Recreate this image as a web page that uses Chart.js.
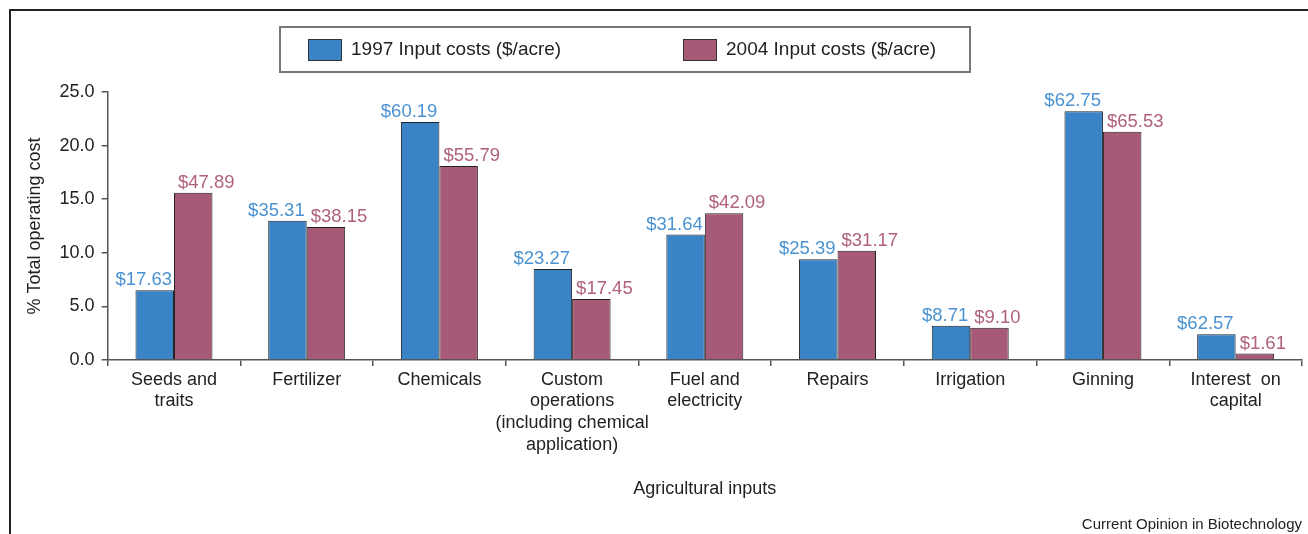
<!DOCTYPE html>
<html>
<head>
<meta charset="utf-8">
<title>Agricultural input costs</title>
<script src="https://cdn.jsdelivr.net/npm/chart.js@4.4.1/dist/chart.umd.min.js"></script>
<style>
    html, body { margin: 0; padding: 0; background: #fff; }
    #wrap { width: 1308px; height: 534px; position: relative; }
</style>
</head>
<body>
<div id="wrap"><canvas id="cost-chart"></canvas></div>
<script>
// Chart data
const categories = [
    ['Seeds and', 'traits'],
    ['Fertilizer'],
    ['Chemicals'],
    ['Custom', 'operations', '(including chemical', 'application)'],
    ['Fuel and', 'electricity'],
    ['Repairs'],
    ['Irrigation'],
    ['Ginning'],
    ['Interest  on', 'capital']
];
const seriesNames = ['1997 Input costs ($/acre)', '2004 Input costs ($/acre)'];
// % of total operating cost
const share1997 = [6.5, 13.0, 22.2, 8.5, 11.7, 9.4, 3.2, 23.2, 2.4];
const share2004 = [15.6, 12.4, 18.1, 5.7, 13.7, 10.2, 3.0, 21.3, 0.6];
// dollar labels shown above bars
const cost1997 = ['$17.63', '$35.31', '$60.19', '$23.27', '$31.64', '$25.39', '$8.71', '$62.75', '$62.57'];
const cost2004 = ['$47.89', '$38.15', '$55.79', '$17.45', '$42.09', '$31.17', '$9.10', '$65.53', '$1.61'];
const yMin = 0, yMax = 25, yStep = 5;

const FONT = '"Liberation Sans", Arial, Helvetica, sans-serif';
const barColors = ['#3a83c6', '#a75a78'];
const labelColors = ['#4a92d2', '#b0607f'];

// frame lines + boxed legend, drawn around the chart
const framePlugin = {
    id: 'frame',
    beforeDraw(chart) {
        const ctx = chart.ctx;
        ctx.save();
        ctx.strokeStyle = '#222';
        ctx.lineWidth = 2;
        ctx.beginPath();
        ctx.moveTo(10, chart.height);
        ctx.lineTo(10, 10);
        ctx.lineTo(chart.width, 10);
        ctx.stroke();
        ctx.restore();
    },
    afterDraw(chart) {
        const ctx = chart.ctx;
        ctx.save();
        // legend box
        ctx.strokeStyle = '#777';
        ctx.lineWidth = 2;
        ctx.strokeRect(280, 27, 690, 45);
        const swatchX = [308, 683];
        ctx.font = '19px ' + FONT;
        ctx.textBaseline = 'middle';
        ctx.textAlign = 'left';
        chart.data.datasets.forEach((ds, i) => {
            ctx.fillStyle = ds.backgroundColor;
            ctx.fillRect(swatchX[i], 39, 34, 22);
            ctx.strokeStyle = '#333';
            ctx.lineWidth = 1;
            ctx.strokeRect(swatchX[i] + 0.5, 39.5, 33, 21);
            ctx.fillStyle = '#222';
            ctx.fillText(ds.label, swatchX[i] + 43, 50);
        });
        ctx.restore();
    }
};

// dollar value labels above each bar
const valueLabelPlugin = {
    id: 'valueLabels',
    afterDatasetsDraw(chart) {
        const ctx = chart.ctx;
        const texts = [cost1997, cost2004];
        ctx.save();
        ctx.font = '18.5px ' + FONT;
        ctx.textBaseline = 'alphabetic';
        chart.data.datasets.forEach((ds, di) => {
            const meta = chart.getDatasetMeta(di);
            ctx.fillStyle = labelColors[di];
            meta.data.forEach((bar, i) => {
                const half = bar.width / 2;
                if (di === 0) {
                    ctx.textAlign = 'right';
                    ctx.fillText(texts[di][i], bar.x + half - 2, bar.y - 5);
                } else {
                    ctx.textAlign = 'left';
                    ctx.fillText(texts[di][i], bar.x - half + 4, bar.y - 5);
                }
            });
        });
        ctx.restore();
    }
};

new Chart(document.getElementById('cost-chart'), {
    type: 'bar',
    data: {
        labels: categories,
        datasets: [
            {
                label: seriesNames[0],
                data: share1997,
                backgroundColor: barColors[0],
                borderColor: '#222',
                borderWidth: 1,
                categoryPercentage: 0.58,
                barPercentage: 1.0
            },
            {
                label: seriesNames[1],
                data: share2004,
                backgroundColor: barColors[1],
                borderColor: '#222',
                borderWidth: 1,
                categoryPercentage: 0.58,
                barPercentage: 1.0
            }
        ]
    },
    options: {
        responsive: true,
        maintainAspectRatio: false,
        animation: false,
        layout: {
            padding: { top: 92, left: 24, right: 6, bottom: 0 }
        },
        scales: {
            x: {
                grid: {
                    display: true,
                    drawOnChartArea: false,
                    drawTicks: true,
                    tickLength: 6,
                    color: '#555',
                    lineWidth: 1.5
                },
                border: { display: true, color: '#555', width: 1.5 },
                ticks: {
                    color: '#222',
                    padding: 3,
                    maxRotation: 0,
                    autoSkip: false,
                    font: { family: FONT, size: 18, lineHeight: 1.2 }
                },
                title: {
                    display: true,
                    text: 'Agricultural inputs',
                    color: '#222',
                    padding: { top: 20, bottom: 8 },
                    font: { family: FONT, size: 18, lineHeight: 1.2 }
                }
            },
            y: {
                min: yMin,
                max: yMax,
                grid: {
                    display: true,
                    drawOnChartArea: false,
                    drawTicks: true,
                    tickLength: 6,
                    color: '#555',
                    lineWidth: 1.5
                },
                border: { display: true, color: '#555', width: 1.5 },
                ticks: {
                    stepSize: yStep,
                    color: '#222',
                    padding: 7,
                    font: { family: FONT, size: 18 },
                    callback: v => v.toFixed(1)
                },
                title: {
                    display: true,
                    text: '% Total operating cost',
                    color: '#222',
                    padding: { top: 0, bottom: 7 },
                    font: { family: FONT, size: 18, lineHeight: 1.2 }
                }
            }
        },
        plugins: {
            legend: { display: false },
            tooltip: { enabled: false },
            subtitle: {
                display: true,
                position: 'bottom',
                align: 'end',
                text: 'Current Opinion in Biotechnology',
                color: '#222',
                padding: { top: 8, bottom: 0 },
                font: { family: FONT, size: 15, lineHeight: 1.2 }
            }
        }
    },
    plugins: [framePlugin, valueLabelPlugin]
});
</script>
</body>
</html>
